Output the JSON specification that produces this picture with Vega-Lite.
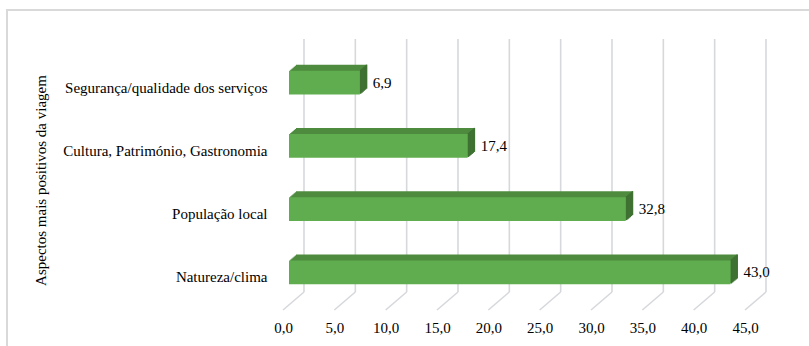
{
  "$schema": "https://vega.github.io/schema/vega-lite/v6.json",
  "width": 462,
  "height": 253,
  "autosize": {"type": "none"},
  "padding": {"left": 289, "top": 39, "right": 58, "bottom": 54},
  "background": "white",
  "config": {
    "view": {"stroke": null},
    "font": "Liberation Serif",
    "locale": {"number": {"decimal": ",", "thousands": ".", "grouping": [3], "currency": ["", " €"]}}
  },
  "datasets": {
    "aspects": [
      {"aspecto": "Segurança/qualidade dos serviços", "pct": 6.9},
      {"aspecto": "Cultura, Património, Gastronomia", "pct": 17.4},
      {"aspecto": "População local", "pct": 32.8},
      {"aspecto": "Natureza/clima", "pct": 43.0}
    ],
    "ticks": [
      {"v": 0}, {"v": 5}, {"v": 10}, {"v": 15}, {"v": 20},
      {"v": 25}, {"v": 30}, {"v": 35}, {"v": 40}, {"v": 45}
    ],
    "frame": [{}]
  },
  "layer": [
    {
      "data": {"name": "frame"},
      "mark": {"type": "rect", "fill": "transparent", "stroke": "#d9d9d9", "strokeWidth": 2,
               "xOffset": -282, "x2Offset": 80, "yOffset": -29, "y2Offset": 80},
      "encoding": {
        "x": {"value": 0}, "x2": {"value": "width"},
        "y": {"value": 0}, "y2": {"value": "height"}
      }
    },
    {
      "data": {"name": "ticks"},
      "mark": {"type": "rule", "color": "#d6d8dc", "strokeWidth": 1.6, "xOffset": 15},
      "encoding": {
        "x": {
          "field": "v", "type": "quantitative",
          "scale": {"domain": [0, 45], "nice": false, "zero": true},
          "axis": {
            "title": null, "orient": "bottom",
            "values": [0, 5, 10, 15, 20, 25, 30, 35, 40, 45], "format": ".1f",
            "domain": false, "ticks": false, "tickSize": 0, "grid": false,
            "labelFlush": false, "labelOverlap": false,
            "labelFont": "Liberation Serif", "labelFontSize": 15, "labelColor": "#000000",
            "labelPadding": 28, "labelOffset": -6
          }
        }
      }
    },
    {
      "data": {"name": "ticks"},
      "mark": {"type": "rule", "color": "#d6d8dc", "strokeWidth": 1.6,
               "xOffset": 15, "x2Offset": -6, "y2Offset": 18},
      "encoding": {
        "x": {"field": "v", "type": "quantitative"},
        "x2": {"field": "v"},
        "y": {"value": "height"},
        "y2": {"value": "height"}
      }
    },
    {
      "data": {"name": "aspects"},
      "encoding": {
        "y": {
          "field": "aspecto", "type": "nominal", "sort": null,
          "scale": {"paddingInner": 0.6206, "paddingOuter": 0.3103},
          "axis": {
            "title": "Aspectos mais positivos da viagem",
            "titleFont": "Liberation Serif", "titleFontSize": 15, "titleFontWeight": "normal",
            "titleColor": "#000000", "titleAngle": -90, "titleAlign": "center",
            "titleBaseline": "middle", "titleX": -249, "titleY": 141,
            "domain": false, "ticks": false, "tickSize": 0, "grid": false,
            "labelFont": "Liberation Serif", "labelFontSize": 15, "labelColor": "#000000",
            "labelLimit": 320, "labelPadding": 22, "labelOffset": 17
          }
        },
        "x": {"field": "pct", "type": "quantitative"}
      },
      "layer": [
        {"mark": {"type": "bar", "color": "#4e8b3f", "xOffset": 1.17, "x2Offset": 1.17, "yOffset": 11}},
        {"mark": {"type": "bar", "color": "#4e8b3f", "xOffset": 2.33, "x2Offset": 2.33, "yOffset": 10}},
        {"mark": {"type": "bar", "color": "#4e8b3f", "xOffset": 3.5, "x2Offset": 3.5, "yOffset": 9}},
        {"mark": {"type": "bar", "color": "#4e8b3f", "xOffset": 4.67, "x2Offset": 4.67, "yOffset": 8}},
        {"mark": {"type": "bar", "color": "#4e8b3f", "xOffset": 5.83, "x2Offset": 5.83, "yOffset": 7}},
        {"mark": {"type": "bar", "color": "#4e8b3f", "xOffset": 7, "x2Offset": 7, "yOffset": 6}},
        {"mark": {"type": "tick", "color": "#3e7132", "opacity": 1, "size": 24, "thickness": 1.6, "xOffset": 0.9, "yOffset": 11}},
        {"mark": {"type": "tick", "color": "#3e7132", "opacity": 1, "size": 24, "thickness": 1.6, "xOffset": 2.1, "yOffset": 10}},
        {"mark": {"type": "tick", "color": "#3e7132", "opacity": 1, "size": 24, "thickness": 1.6, "xOffset": 3.2, "yOffset": 9}},
        {"mark": {"type": "tick", "color": "#3e7132", "opacity": 1, "size": 24, "thickness": 1.6, "xOffset": 4.4, "yOffset": 8}},
        {"mark": {"type": "tick", "color": "#3e7132", "opacity": 1, "size": 24, "thickness": 1.6, "xOffset": 5.6, "yOffset": 7}},
        {"mark": {"type": "tick", "color": "#3e7132", "opacity": 1, "size": 24, "thickness": 1.6, "xOffset": 6.7, "yOffset": 6}},
        {"mark": {"type": "bar", "color": "#5fad4e", "yOffset": 12}},
        {
          "mark": {"type": "text", "align": "left", "baseline": "middle", "dx": 13, "dy": 12,
                   "font": "Liberation Serif", "fontSize": 15, "color": "#000000"},
          "encoding": {"text": {"field": "pct", "type": "quantitative", "format": ".1f"}}
        }
      ]
    }
  ]
}
